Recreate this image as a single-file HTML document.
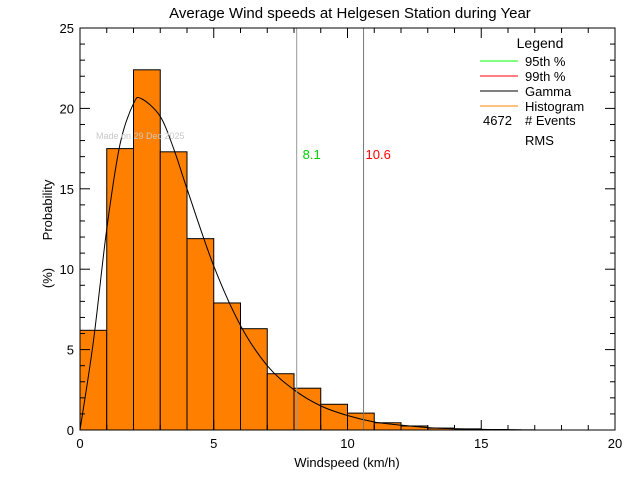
<!DOCTYPE html>
<html><head><meta charset="utf-8"><style>
body{margin:0;background:#fff;}
svg{display:block;font-family:"Liberation Sans",sans-serif;}
</style></head><body>
<svg id="chart" width="640" height="480">
<text x="350" y="18" font-size="15" text-anchor="middle">Average Wind speeds at Helgesen Station during Year</text>
<g id="bars"></g>
<g id="marks"></g>
<rect x="80" y="28" width="535" height="402" fill="none" stroke="#000"/>
<g id="axes"></g>
<text x="96" y="139" font-size="9" fill="#c8c8c8">Made on 29 Dec 2025</text>
<text x="347" y="467" font-size="13" text-anchor="middle">Windspeed (km/h)</text>
<text transform="translate(52,210) rotate(-90)" font-size="13" text-anchor="middle">Probability</text>
<text transform="translate(52,278) rotate(-90)" font-size="13" text-anchor="middle">(%)</text>
<g font-size="13">
<text x="540" y="48" text-anchor="middle" font-size="14">Legend</text>
<line x1="480" y1="61" x2="518" y2="61" stroke="#0f0"/>
<text x="525" y="66">95th %</text>
<line x1="480" y1="76" x2="518" y2="76" stroke="#f00"/>
<text x="525" y="81">99th %</text>
<line x1="480" y1="91" x2="518" y2="91" stroke="#000"/>
<text x="525" y="96">Gamma</text>
<line x1="480" y1="106" x2="518" y2="106" stroke="#ff8000"/>
<text x="525" y="111">Histogram</text>
<text x="483" y="125">4672</text>
<text x="525" y="125"># Events</text>
<text x="525" y="145">RMS</text>
</g>
</svg>
<script>
const binStarts=[0,1,2,3,4,5,6,7,8,9,10,11,12,13,14,15,16];
const binValues=[6.2,17.5,22.4,17.3,11.9,7.9,6.3,3.5,2.6,1.6,1.05,0.45,0.25,0.12,0.07,0.03,0.01];
const gammaX=[0,0.5,1,1.5,2,2.3,3,3.5,4,5,6,7,8,9,10,11,12,13,14,15,16,16.5];
const gammaY=[0,5.5,12.5,17.8,20.3,20.6,19.5,17.5,15,10.2,6.5,4.0,2.5,1.5,0.9,0.5,0.3,0.15,0.08,0.04,0.02,0.01];
const p95=8.1,p99=10.6;
const xTicks=[0,5,10,15,20];
const yTicks=[0,5,10,15,20,25];
const NS="http://www.w3.org/2000/svg";
const X=v=>80+v*535/20, Y=v=>430-v*402/25;
function mk(t,a,p){const e=document.createElementNS(NS,t);for(const k in a)e.setAttribute(k,a[k]);p.appendChild(e);return e;}
const bars=document.getElementById('bars'),marks=document.getElementById('marks'),axes=document.getElementById('axes');
binStarts.forEach((s,i)=>{
 const r=mk('rect',{x:X(s),y:Y(binValues[i]),width:X(s+1)-X(s),height:Y(0)-Y(binValues[i]),fill:'#ff8000',stroke:'#000','stroke-width':1},bars);
 
 
});
let d='M'+X(gammaX[0])+','+Y(gammaY[0]);
for(let i=0;i<gammaX.length-1;i++){
 const p0=[X(gammaX[Math.max(i-1,0)]),Y(gammaY[Math.max(i-1,0)])],p1=[X(gammaX[i]),Y(gammaY[i])],p2=[X(gammaX[i+1]),Y(gammaY[i+1])],p3=[X(gammaX[Math.min(i+2,gammaX.length-1)]),Y(gammaY[Math.min(i+2,gammaX.length-1)])];
 d+=' C'+(p1[0]+(p2[0]-p0[0])/6)+','+(p1[1]+(p2[1]-p0[1])/6)+' '+(p2[0]-(p3[0]-p1[0])/6)+','+(p2[1]-(p3[1]-p1[1])/6)+' '+p2[0]+','+p2[1];
}
const g=mk('path',{d:d,fill:'none',stroke:'#000','stroke-width':1},marks);


const l95=mk('line',{x1:X(p95),x2:X(p95),y1:28,y2:430,stroke:'#999'},marks);


const l99=mk('line',{x1:X(p99),x2:X(p99),y1:28,y2:430,stroke:'#777'},marks);


const t95=mk('text',{x:X(p95)+6,y:159,'font-size':13,fill:'#0c0'},marks);t95.textContent=p95.toFixed(1);


const t99=mk('text',{x:X(p99)+2,y:159,'font-size':13,fill:'#f00'},marks);t99.textContent=p99.toFixed(1);


xTicks.forEach(v=>{
 mk('line',{x1:X(v),x2:X(v),y1:430,y2:420,stroke:'#000'},axes);mk('line',{x1:X(v),x2:X(v),y1:28,y2:38,stroke:'#000'},axes);
 const t=mk('text',{x:X(v),y:448,'font-size':13,'text-anchor':'middle'},axes);t.textContent=v;
 
 
});
for(let v=1;v<20;v++){if(v%5){mk('line',{x1:X(v),x2:X(v),y1:430,y2:425,stroke:'#000'},axes);mk('line',{x1:X(v),x2:X(v),y1:28,y2:33,stroke:'#000'},axes);}}
yTicks.forEach(v=>{
 mk('line',{x1:80,x2:90,y1:Y(v),y2:Y(v),stroke:'#000'},axes);mk('line',{x1:615,x2:605,y1:Y(v),y2:Y(v),stroke:'#000'},axes);
 const t=mk('text',{x:74,y:Y(v)+5,'font-size':13,'text-anchor':'end'},axes);t.textContent=v;
 
 
});
for(let v=1;v<25;v++){if(v%5){mk('line',{x1:80,x2:85,y1:Y(v),y2:Y(v),stroke:'#000'},axes);mk('line',{x1:615,x2:610,y1:Y(v),y2:Y(v),stroke:'#000'},axes);}}
</script>
</body></html>
